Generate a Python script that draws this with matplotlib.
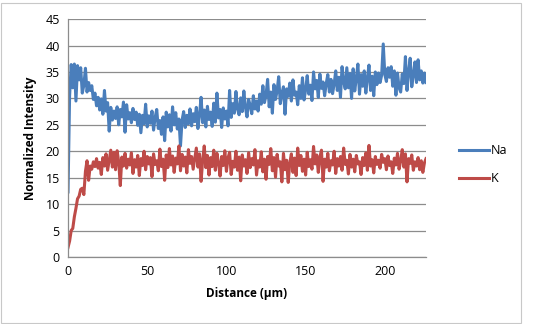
import numpy as np
import matplotlib.pyplot as plt
from matplotlib.patches import Rectangle

# Distance (um), one reading per micron
distance = np.arange(0, 227)

na = [12.3, 30.5, 36.4, 32.0, 36.5, 29.5, 36.2, 33.5, 35.8, 31.0,
      32.5, 35.7, 31.2, 33.0, 31.5, 32.4, 29.8, 31.0, 28.6, 30.2,
      27.8, 29.9, 27.0, 31.5, 27.6, 29.2, 23.8, 28.3, 25.9, 27.6,
      26.2, 28.4, 25.0, 27.9, 26.5, 29.3, 23.6, 28.8, 26.1, 27.3,
      25.4, 28.1, 26.0, 27.4, 24.9, 27.0, 23.5, 26.8, 25.2, 28.9,
      24.6, 26.7, 25.3, 27.6, 24.0, 26.4, 27.9, 24.3, 25.8, 23.2,
      26.5, 22.0, 27.4, 24.6, 26.9, 23.8, 28.4, 25.0, 27.3, 24.2,
      26.1, 21.0, 25.9, 27.5, 24.5, 26.8, 25.2, 28.0, 24.8, 27.1,
      25.6, 28.3, 24.3, 26.9, 30.2, 25.4, 27.8, 24.6, 28.5, 26.0,
      27.4, 24.7, 29.1, 25.5, 31.0, 26.3, 27.9, 24.5, 28.2, 26.1,
      27.6, 24.8, 31.5, 26.4, 29.0, 27.2, 31.3, 28.0, 26.9, 30.1,
      27.5, 31.4, 28.3, 26.5, 29.8, 28.7, 27.1, 30.5, 28.0, 29.5,
      27.6, 30.8, 28.9, 32.4, 29.2, 30.6, 33.6, 28.4, 31.2, 27.2,
      32.6, 29.8, 31.5, 34.1, 29.0, 30.9, 32.2, 27.0, 31.8, 30.4,
      32.9, 29.5, 33.5, 30.6, 31.2, 28.8, 32.4, 30.0, 33.9, 29.7,
      31.6, 34.3, 30.8, 32.5, 29.6, 35.0, 31.8, 33.4, 30.2, 34.6,
      31.9, 33.1, 30.5, 32.8, 34.5, 31.2, 33.6, 30.9, 32.7, 35.2,
      31.5, 34.0, 30.2, 36.0, 33.2, 31.8, 35.8, 32.0, 34.7, 30.0,
      35.6, 31.4, 33.8, 36.5, 30.8, 34.5, 32.3, 35.2, 31.0, 33.9,
      36.3, 31.5, 34.2, 30.5, 35.0, 32.6, 34.8, 33.0, 34.4, 40.3,
      34.5, 33.2, 35.8, 34.0, 36.0, 32.3, 35.2, 30.6, 34.8, 32.0,
      31.2, 34.6, 32.8, 37.9, 31.5, 35.0, 37.6, 32.2, 34.4, 36.9,
      33.0, 37.3, 33.5, 35.2, 32.9, 34.8, 33.0]

k = [1.8, 3.0, 5.0, 5.4, 7.6, 9.2, 11.0, 11.5, 12.8, 13.0,
     11.8, 16.2, 18.2, 14.5, 17.2, 16.6, 18.0, 17.1, 18.6, 16.8,
     17.9, 15.6, 18.8, 17.2, 19.5, 16.4, 18.3, 20.2, 17.0, 19.8,
     16.5, 20.1, 18.0, 13.5, 18.9, 17.2, 19.6, 16.8, 18.5, 17.4,
     19.7, 15.8, 18.4, 17.0, 19.2, 15.4, 18.6, 17.3, 20.0, 16.5,
     19.0, 17.6, 18.8, 15.2, 19.5, 17.5, 18.2, 16.3, 20.4, 17.1,
     18.5, 14.5, 19.3, 16.9, 20.5, 17.4, 19.1, 16.0, 18.7, 17.6,
     21.0, 16.3, 19.4, 17.2, 18.9, 15.9, 20.3, 17.7, 19.0, 16.6,
     18.6, 20.6, 17.0, 19.5, 14.3, 18.3, 21.0, 16.9, 19.2, 15.5,
     18.8, 17.1, 20.2, 16.4, 19.6, 17.8, 15.3, 19.0, 17.3, 20.1,
     16.2, 18.7, 19.8, 15.6, 18.1, 17.0, 20.0, 16.4, 18.9, 14.4,
     19.3, 17.2, 18.4, 15.8, 19.7, 16.9, 18.6, 17.4, 20.3, 15.5,
     18.2, 17.0, 19.9, 16.1, 18.5, 14.7, 19.0, 17.5, 20.5, 16.3,
     18.8, 15.1, 19.4, 17.2, 18.0, 14.2, 19.6, 16.5, 18.3, 14.1,
     17.8, 19.5, 16.0, 18.7, 15.4, 20.6, 17.3, 19.2, 16.2, 18.5,
     15.5, 19.8, 17.1, 18.4, 16.6, 20.9, 17.6, 19.3, 16.0, 18.9,
     20.2, 14.3, 18.5, 17.0, 19.6, 16.3, 18.2, 17.4, 20.0, 15.8,
     18.6, 17.2, 19.0, 16.4, 20.6, 17.5, 18.3, 15.7, 19.4, 17.0,
     18.5, 16.1, 19.2, 17.6, 18.0, 15.6, 18.8, 17.3, 19.7, 16.4,
     21.1, 17.2, 18.4, 15.9, 19.0, 17.5, 18.3, 16.8, 19.4, 17.9,
     18.6, 16.5, 19.1, 17.3, 18.0, 15.8, 18.7, 17.4, 19.6, 16.6,
     18.2, 20.3, 17.0, 19.5, 14.2, 18.6, 17.7, 19.3, 16.4, 18.0,
     17.2, 18.8, 16.5, 18.2, 16.0, 17.8, 18.6]

x_ticks = [0, 50, 100, 150, 200]
y_ticks = list(range(0, 50, 5))

plt.rcParams['font.family'] = ['Open Sans', 'DejaVu Sans']

fig = plt.figure(figsize=(5.42, 3.24), dpi=100)
ax = fig.add_axes([0.1255, 0.207, 0.6605, 0.734])

# light grey frame round the chart, like Excel
fig.patches.append(Rectangle((0.002, 0.003), 0.959, 0.987, transform=fig.transFigure,
                             fill=False, edgecolor='#c8c8c8', linewidth=0.8))

ax.plot(distance, na, color='#4a7ebb', lw=2.2, label='Na', solid_joinstyle='round')
ax.plot(distance, k, color='#be4b48', lw=2.2, label='K', solid_joinstyle='round')

ax.set_xlim(0, 226)
ax.set_ylim(0, 45)
ax.set_xticks(x_ticks)
ax.set_yticks(y_ticks)
ax.yaxis.grid(True, color='#8c8c8c', lw=0.9)
ax.set_axisbelow(True)
for s in ['top', 'right']:
    ax.spines[s].set_visible(False)
for s in ['left', 'bottom']:
    ax.spines[s].set_color('#8c8c8c')
    ax.spines[s].set_linewidth(0.9)
ax.tick_params(axis='both', length=0, labelsize=9, pad=6)

ax.set_xlabel('Distance (µm)', fontsize=8.5, fontweight='bold', labelpad=6)
ax.set_ylabel('Normalized Intensity', fontsize=8.5, fontweight='bold', labelpad=6)

ax.legend(loc='center left', bbox_to_anchor=(1.061, 0.387), frameon=False,
          fontsize=9, handlelength=2.4, handletextpad=0.1, labelspacing=1.2)

fig.savefig('out.png', dpi=100)
